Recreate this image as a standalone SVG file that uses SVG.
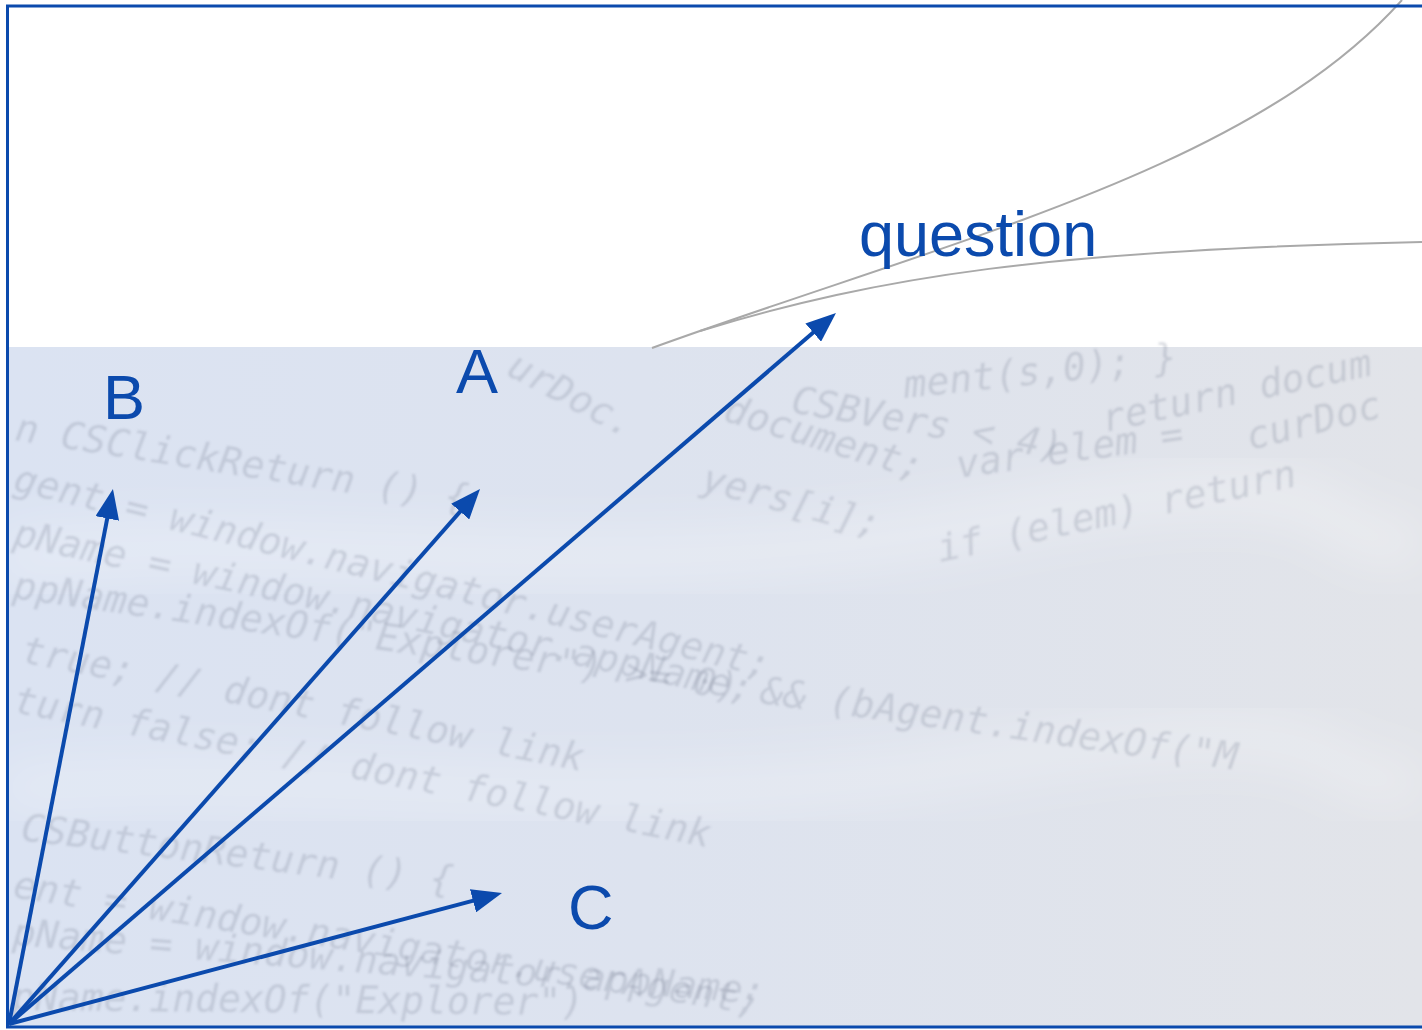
<svg xmlns="http://www.w3.org/2000/svg" width="1422" height="1030" viewBox="0 0 1422 1030">
  <style>
    .lbl { font-family: "Liberation Sans", Arial, sans-serif; font-size: 63px; fill: #0b4aad; }
    .code { font-family: "DejaVu Sans Mono", "Liberation Mono", monospace; font-style: italic; font-size: 38px; fill: #7c8597; fill-opacity: 0.26; }
    .conn { fill: none; stroke: #0b4aad; stroke-width: 4; marker-end: url(#head); }
    .curve { fill: none; stroke: #a9a9a9; stroke-width: 2; }
  </style>
  <defs>
    <marker id="head" viewBox="0 0 30 24" markerUnits="userSpaceOnUse" markerWidth="30" markerHeight="24" refX="15" refY="12" orient="auto">
      <path d="M0,0 L30,12 L0,24 z" fill="#0b4aad"/>
    </marker>
    <linearGradient id="bg" x1="0" y1="0" x2="1" y2="0">
      <stop offset="0" stop-color="#dbe3f2"/>
      <stop offset="0.45" stop-color="#dde3ef"/>
      <stop offset="1" stop-color="#e2e4e9"/>
    </linearGradient>
    <filter id="soft" x="-5%" y="-5%" width="110%" height="110%">
      <feGaussianBlur stdDeviation="1.2"/>
    </filter>
    <filter id="wide" x="-20%" y="-50%" width="140%" height="200%">
      <feGaussianBlur stdDeviation="25"/>
    </filter>
    <clipPath id="bgclip">
      <rect x="9" y="347" width="1413" height="679"/>
    </clipPath>
  </defs>

  <g id="background">
    <rect x="9" y="347" width="1413" height="679" fill="url(#bg)"/>
    <g clip-path="url(#bgclip)">
      <path d="M0,560 C300,520 600,600 1000,520 S1300,560 1422,540" stroke="#ffffff" stroke-opacity="0.35" stroke-width="40" fill="none" filter="url(#wide)"/>
      <path d="M0,790 C300,760 600,830 1000,760 S1300,800 1422,780" stroke="#ffffff" stroke-opacity="0.3" stroke-width="40" fill="none" filter="url(#wide)"/>
    </g>
    <g filter="url(#soft)">
      <text class="code" transform="translate(14,440) rotate(9)">n CSClickReturn () {</text>
      <text class="code" transform="translate(12,490) rotate(14)">gent = window.navigator.userAgent;</text>
      <text class="code" transform="translate(12,545) rotate(12)">pName = window.navigator.appName;</text>
      <text class="code" transform="translate(12,598) rotate(8)">ppName.indexOf("Explorer") &gt;= 0) &amp;&amp; (bAgent.indexOf("M</text>
      <text class="code" transform="translate(20,662) rotate(11)">true; // dont follow link</text>
      <text class="code" transform="translate(12,712) rotate(11)">turn false; // dont follow link</text>
      <text class="code" transform="translate(20,840) rotate(7)">CSButtonReturn () {</text>
      <text class="code" transform="translate(12,897) rotate(9)">ent = window.navigator.userAgent;</text>
      <text class="code" transform="translate(12,945) rotate(4.5)">pName = window.navigator.appName;</text>
      <text class="code" transform="translate(12,1010) rotate(0.5)">pName.indexOf("Explorer")</text>
      <text class="code" transform="translate(905,398) rotate(-6)">ment(s,0); }</text>
      <text class="code" transform="translate(790,412) rotate(10)">CSBVers &lt; 4)</text>
      <text class="code" transform="translate(1105,432) rotate(-12)">return docum</text>
      <text class="code" transform="translate(505,374) rotate(28)">urDoc.</text>
      <text class="code" transform="translate(722,420) rotate(17)">document;</text>
      <text class="code" transform="translate(958,478) rotate(-8)">var elem =</text>
      <text class="code" transform="translate(1250,450) rotate(-14)">curDoc</text>
      <text class="code" transform="translate(700,490) rotate(15)">yers[i];</text>
      <text class="code" transform="translate(940,562) rotate(-12)">if (elem) return</text>
    </g>
    <path class="curve" d="M652,348 C950,240 1250,170 1402,0"/>
    <path class="curve" d="M700,331 C880,276 1050,250 1422,242"/>
  </g>

  <rect id="frame" x="7.5" y="6" width="1420" height="1021" fill="none" stroke="#0b4aad" stroke-width="3"/>

  <g id="connectors">
    <path class="conn" d="M9,1024 L110.1,503.7"/>
    <path class="conn" d="M9,1024 L470.1,500.3"/>
    <path class="conn" d="M9,1024 L824.6,322.8"/>
    <path class="conn" d="M9,1024 L487.5,896.9"/>
  </g>

  <g id="node-question"><text class="lbl" x="859" y="256">question</text></g>
  <g id="node-A"><text class="lbl" x="456" y="393">A</text></g>
  <g id="node-B"><text class="lbl" x="103" y="419">B</text></g>
  <g id="node-C"><text class="lbl" x="568" y="929">C</text></g>
</svg>
